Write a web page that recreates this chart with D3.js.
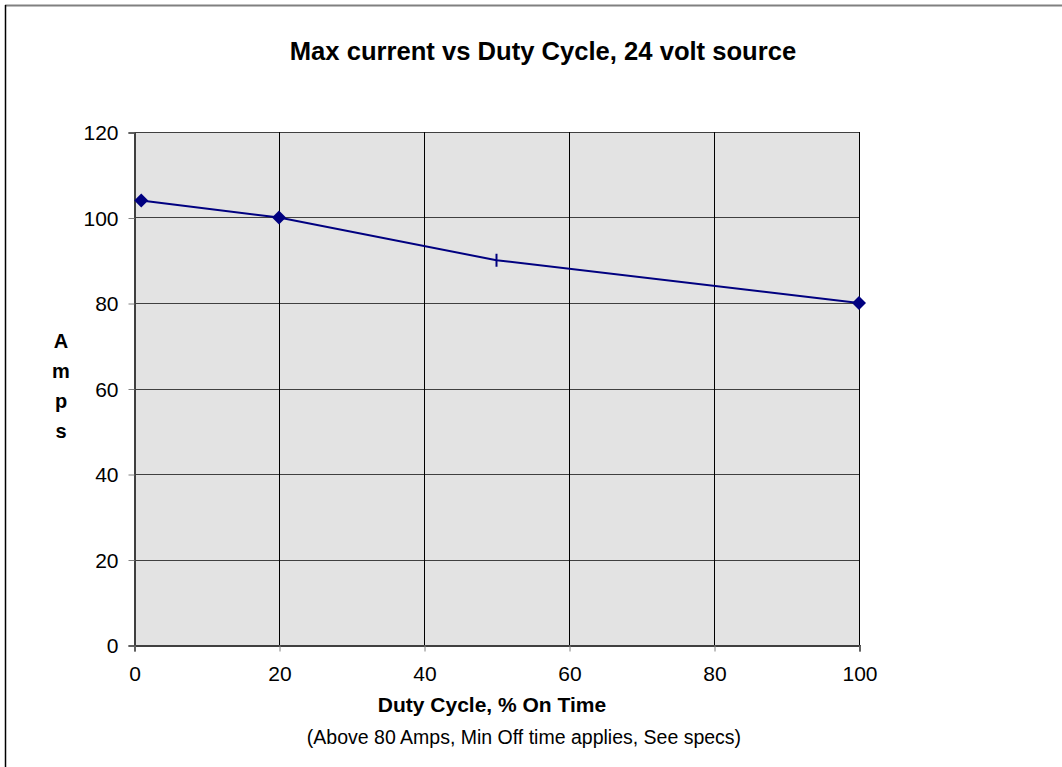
<!DOCTYPE html>
<html><head><meta charset="utf-8">
<script src="https://cdn.jsdelivr.net/npm/d3@7"></script>
<style>body{margin:0;background:#fff}svg{display:block;font-family:"Liberation Sans",Arial,sans-serif}</style>
</head><body><svg id="c" width="1062" height="767"></svg>
<script>
const dutyCycle = [1, 20, 50, 100];
const amps = [104, 100, 90, 80];
const markerTypes = ["diamond", "diamond", "bar", "diamond"];
const xTicks = [0, 20, 40, 60, 80, 100];
const yTicks = [0, 20, 40, 60, 80, 100, 120];
const titleText = "Max current vs Duty Cycle, 24 volt source";
const xLabel = "Duty Cycle, % On Time";
const noteText = "(Above 80 Amps, Min Off time applies, See specs)";
const yLabelLetters = ["A", "m", "p", "s"];

const svg = d3.select("#c");
const L = 134, R = 859, T = 132, B = 645;
const x = d3.scaleLinear().domain([0, 100]).range([L, R]);
const y = d3.scaleLinear().domain([0, 120]).range([B, T]);

// outer frame
svg.append("line").attr("x1", 5).attr("x2", 1062).attr("y1", 5.5).attr("y2", 5.5).attr("stroke", "#808080").attr("stroke-width", 2);
svg.append("line").attr("x1", 5.5).attr("x2", 5.5).attr("y1", 5).attr("y2", 767).attr("stroke", "#000").attr("stroke-width", 1.5);

// plot bg
svg.append("rect").attr("x", L).attr("y", T).attr("width", R - L).attr("height", B - T).attr("fill", "#e3e3e3");

// grid
const g = svg.append("g");
g.selectAll(".hg").data(yTicks).join("line")
  .attr("x1", L).attr("x2", R).attr("y1", d => Math.round(y(d)) + 0.5).attr("y2", d => Math.round(y(d)) + 0.5)
  .attr("stroke", "#404040").attr("stroke-width", 1);
g.selectAll(".vg").data(xTicks).join("line")
  .attr("y1", T).attr("y2", B).attr("x1", d => Math.round(x(d)) + 0.5).attr("x2", d => Math.round(x(d)) + 0.5)
  .attr("stroke", "#000").attr("stroke-width", 1);

// axes
const yAxis = d3.axisLeft(y).tickValues(yTicks).tickSize(6).tickPadding(10);
const xAxis = d3.axisBottom(x).tickValues(xTicks).tickSize(6).tickPadding(15);
const ya = svg.append("g").attr("transform", `translate(${L + 0.5},0.5)`).call(yAxis);
const xa = svg.append("g").attr("transform", `translate(0.5,${B + 0.5})`).call(xAxis);
[ya, xa].forEach(a => {
  a.attr("font-size", 21).attr("font-family", "Liberation Sans, Arial, sans-serif");
  a.select(".domain").attr("stroke", "#404040").attr("stroke-width", 2);
  a.selectAll(".tick line").attr("stroke", "#808080");
  a.selectAll(".tick text").attr("fill", "#000");
});
ya.selectAll(".tick text").attr("dy", "0.35em");

// line
const line = d3.line().x((d, i) => x(dutyCycle[i])).y(d => y(d));
svg.append("path").datum(amps).attr("d", line).attr("fill", "none").attr("stroke", "#000080").attr("stroke-width", 2);

// markers
amps.forEach((v, i) => {
  const cx = x(dutyCycle[i]), cy = y(v);
  if (markerTypes[i] === "diamond") {
    svg.append("path").attr("d", `M${cx},${cy - 7}L${cx + 7},${cy}L${cx},${cy + 7}L${cx - 7},${cy}Z`).attr("fill", "#000080");
  } else {
    svg.append("line").attr("x1", cx).attr("x2", cx).attr("y1", cy - 6.5).attr("y2", cy + 6.5).attr("stroke", "#000080").attr("stroke-width", 2);
  }
});

// texts
svg.append("text").attr("x", 543).attr("y", 60).attr("text-anchor", "middle").attr("font-size", 25.6).attr("font-weight", "bold").text(titleText);
svg.append("text").attr("x", 492).attr("y", 712).attr("text-anchor", "middle").attr("font-size", 21).attr("font-weight", "bold").text(xLabel);
svg.append("text").attr("x", 524).attr("y", 744).attr("text-anchor", "middle").attr("font-size", 19.5).text(noteText);
const yl = svg.append("text").attr("text-anchor", "middle").attr("font-size", 20).attr("font-weight", "bold");
yLabelLetters.forEach((ch, i) => {
  yl.append("tspan").attr("x", 61).attr("y", 348 + i * 30).text(ch);
});
</script></body></html>
